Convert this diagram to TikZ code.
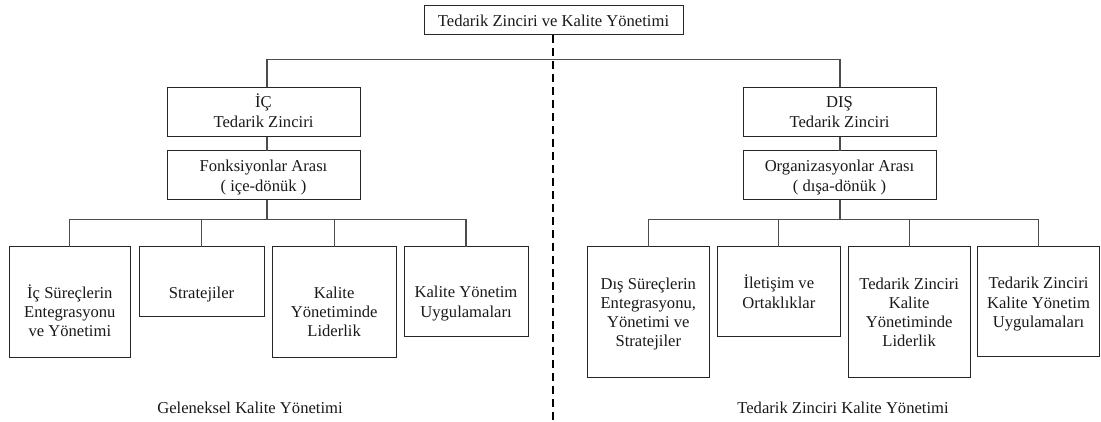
\documentclass[tikz,border=0pt]{standalone}
\usepackage{fontspec}
\setmainfont{Liberation Serif}
\begin{document}
\begin{tikzpicture}[x=1pt,y=-1pt,
  txt/.style={font=\fontsize{16.6}{19.3}\selectfont, text=black!90},
  box/.style={txt, draw=black!85, line width=1pt, inner sep=0pt, outer sep=0pt, anchor=north west},
  conn/.style={draw=black!70, line width=1.1pt},
  divider/.style={draw=black, line width=2.2pt, dash pattern=on 8pt off 5pt}]
\useasboundingbox (0,0) rectangle (1101,422);

% top title box
\node[box] (top) at (424,6) {\parbox[c][29pt][t]{259pt}{\centering\rule{0pt}{21pt}Tedarik Zinciri ve Kalite Yönetimi}};

% spine coordinates
\coordinate (lsp) at (267,59.3);
\coordinate (rsp) at (840,59.3);
\coordinate (lbus) at (267,219.5);
\coordinate (rbus) at (840,219.5);
\coordinate (divend) at (553,422);

% internal chain
\node[box] (ic) at (167,87.5) {\parbox[c][49.5pt][t]{193pt}{\centering\rule{0pt}{20.5pt}İÇ\\Tedarik Zinciri}};
\node[box] (fonk) at (167,151) {\parbox[c][49pt][t]{193pt}{\centering\rule{0pt}{21pt}Fonksiyonlar Arası\\( içe-dönük )}};

% external chain
\node[box] (dis) at (743,87.5) {\parbox[c][49.5pt][t]{193pt}{\centering\rule{0pt}{20.5pt}DIŞ\\Tedarik Zinciri}};
\node[box] (org) at (743,151) {\parbox[c][49pt][t]{193pt}{\centering\rule{0pt}{21pt}Organizasyonlar Arası\\( dışa-dönük )}};

% internal leaves
\node[box] (l1) at (9,247) {\parbox[c][110pt][t]{121.7pt}{\centering\rule{0pt}{51pt}İç Süreçlerin\\Entegrasyonu\\ve Yönetimi}};
\node[box] (l2) at (139,247) {\parbox[c][69.7pt][t]{125pt}{\centering\rule{0pt}{51pt}Stratejiler}};
\node[box] (l3) at (272.3,247) {\parbox[c][110pt][t]{123.7pt}{\centering\rule{0pt}{51pt}Kalite\\Yönetiminde\\Liderlik}};
\node[box] (l4) at (404,247) {\parbox[c][89.7pt][t]{124pt}{\centering\rule{0pt}{51pt}Kalite Yönetim\\Uygulamaları}};

% external leaves
\node[box] (r1) at (587.3,247) {\parbox[c][130.3pt][t]{122pt}{\centering\rule{0pt}{42pt}Dış Süreçlerin\\Entegrasyonu,\\Yönetimi ve\\Stratejiler}};
\node[box] (r2) at (717.7,247) {\parbox[c][89.7pt][t]{122.3pt}{\centering\rule{0pt}{42pt}İletişim ve\\Ortaklıklar}};
\node[box] (r3) at (848.3,247) {\parbox[c][130.3pt][t]{121.7pt}{\centering\rule{0pt}{42pt}Tedarik Zinciri\\Kalite\\Yönetiminde\\Liderlik}};
\node[box] (r4) at (977.7,247) {\parbox[c][109.7pt][t]{121.6pt}{\centering\rule{0pt}{42pt}Tedarik Zinciri\\Kalite Yönetim\\Uygulamaları}};

% captions
\node[txt, anchor=base] (lcap) at (250,413) {Geleneksel Kalite Yönetimi};
\node[txt, anchor=base] (rcap) at (843,413) {Tedarik Zinciri Kalite Yönetimi};

% top level branches
\draw[conn] (ic.north -| lsp) -- (lsp) -- (rsp) -- (dis.north -| rsp);
\draw[conn] (ic.south -| lsp) -- (fonk.north -| lsp);
\draw[conn] (dis.south -| rsp) -- (org.north -| rsp);
\draw[conn] (fonk.south -| lsp) -- (lbus);
\draw[conn] (org.south -| rsp) -- (rbus);

% internal bus
\draw[conn] (l1.north) -- (l1.north |- lbus) -- (l4.north |- lbus) -- (l4.north);
\draw[conn] (l2.north) -- (l2.north |- lbus);
\draw[conn] (l3.north) -- (l3.north |- lbus);

% external bus
\draw[conn] (r1.north) -- (r1.north |- rbus) -- (r4.north |- rbus) -- (r4.north);
\draw[conn] (r2.north) -- (r2.north |- rbus);
\draw[conn] (r3.north) -- (r3.north |- rbus);

% dividing line
\draw[divider] (top.south -| divend) -- (divend);
\end{tikzpicture}
\end{document}
